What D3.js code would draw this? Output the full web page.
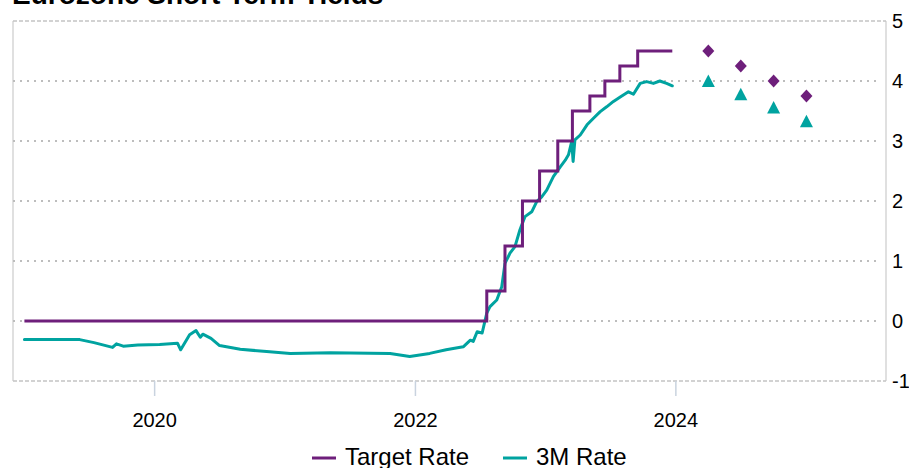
<!DOCTYPE html>
<html>
<head>
<meta charset="utf-8">
<script src="https://cdn.jsdelivr.net/npm/d3@7"></script>
<style>
  html, body { margin: 0; padding: 0; background: #fff; }
  svg { display: block; font-family: "Liberation Sans", Arial, sans-serif; }
</style>
</head>
<body>
<svg id="chart" width="909" height="468"></svg>
<script>
// ECB target rate (step changes: date the new level takes effect)
const targetDates  = ["2019-01-01","2022-07-20","2022-09-09","2022-10-28","2022-12-15","2023-02-04","2023-03-17","2023-05-05","2023-06-16","2023-07-28","2023-09-16","2023-12-22"];
const targetValues = [0, 0.5, 1.25, 2.0, 2.5, 3.0, 3.5, 3.75, 4.0, 4.25, 4.5, 4.5];

// 3M Euribor
const rate3mDates = [
  "2019-01-01","2019-03-01","2019-06-05","2019-07-15","2019-09-05","2019-09-16","2019-10-05","2019-11-15",
  "2020-01-15","2020-03-05","2020-03-14","2020-04-08","2020-04-26","2020-05-08","2020-05-15","2020-06-07",
  "2020-07-01","2020-08-28","2020-11-10","2021-01-15","2021-05-08","2021-10-22","2021-12-16","2022-02-10",
  "2022-03-28","2022-05-15","2022-06-04","2022-06-12","2022-06-23","2022-07-07","2022-07-20","2022-07-29",
  "2022-08-17","2022-08-31","2022-09-09","2022-09-23","2022-10-07","2022-10-21","2022-11-04","2022-11-23",
  "2022-12-07","2022-12-21","2023-01-04","2023-01-23","2023-02-11","2023-02-25","2023-03-06","2023-03-15",
  "2023-03-19","2023-03-24","2023-04-08","2023-04-27","2023-05-15","2023-06-03","2023-06-21","2023-07-10",
  "2023-07-28","2023-08-21","2023-09-04","2023-09-23","2023-10-11","2023-10-30","2023-11-17","2023-12-06",
  "2023-12-22"];
const rate3mValues = [
  -0.31,-0.31,-0.31,-0.36,-0.44,-0.38,-0.42,-0.40,
  -0.39,-0.37,-0.48,-0.23,-0.16,-0.27,-0.22,-0.29,
  -0.41,-0.47,-0.51,-0.54,-0.53,-0.54,-0.59,-0.54,
  -0.48,-0.43,-0.32,-0.34,-0.18,-0.20,0.13,0.24,
  0.35,0.57,0.96,1.13,1.24,1.52,1.74,1.82,
  1.99,2.07,2.18,2.41,2.57,2.68,2.77,2.99,
  2.66,3.02,3.10,3.27,3.38,3.49,3.57,3.66,
  3.73,3.82,3.78,3.96,3.99,3.96,4.00,3.96,
  3.92];

// Quarterly forecasts
const forecastDates   = ["2024-04-01","2024-07-01","2024-10-01","2025-01-01"];
const forecastTarget  = [4.5, 4.25, 4.0, 3.75];
const forecast3m      = [4.0, 3.78, 3.56, 3.33];

const yTicks = [-1, 0, 1, 2, 3, 4, 5];
const xTickYears = ["2020-01-01","2022-01-01","2024-01-01"];
const xTickLabels = ["2020","2022","2024"];

const titleText = "Eurozone Short Term Yields";
const seriesNames = ["Target Rate", "3M Rate"];

const PURPLE = "#6e1f7b";
const TEAL = "#00a3a0";

const parse = d3.utcParse("%Y-%m-%d");
const svg = d3.select("#chart");

const plot = { left: 13, right: 886, top: 21, bottom: 381 };

const x = d3.scaleUtc()
  .domain([parse("2018-11-30"), parse("2025-08-12")])
  .range([plot.left, plot.right]);
const y = d3.scaleLinear()
  .domain([-1, 5])
  .range([plot.bottom, plot.top]);

// title (sits mostly above the visible canvas)
svg.append("text")
  .attr("x", 12).attr("y", 4)
  .attr("font-size", 28).attr("font-weight", "bold")
  .attr("fill", "#000")
  .text(titleText);

// frame
svg.append("line").attr("x1", plot.left).attr("x2", plot.left)
  .attr("y1", plot.top).attr("y2", plot.bottom)
  .attr("stroke", "#d6d6d6").attr("stroke-width", 1.5);
svg.append("line").attr("x1", plot.right).attr("x2", plot.right)
  .attr("y1", plot.top).attr("y2", plot.bottom)
  .attr("stroke", "#d6d6d6").attr("stroke-width", 1.5);
[plot.top, plot.bottom].forEach(py => {
  svg.append("line").attr("x1", plot.left).attr("x2", plot.right)
    .attr("y1", py).attr("y2", py)
    .attr("stroke", "#c4c4c4").attr("stroke-width", 1.5)
    .attr("stroke-dasharray", "4,2");
});

// dotted gridlines
svg.append("g").selectAll("line")
  .data(yTicks.filter(t => t > -1 && t < 5))
  .join("line")
  .attr("x1", plot.left).attr("x2", plot.right - 8)
  .attr("y1", d => y(d)).attr("y2", d => y(d))
  .attr("stroke", "#bdbdbd").attr("stroke-width", 2)
  .attr("stroke-dasharray", "2,5");

// right axis labels
svg.append("g").selectAll("text")
  .data(yTicks)
  .join("text")
  .attr("x", 892).attr("y", d => y(d))
  .attr("dy", "0.35em")
  .attr("font-size", 20).attr("fill", "#000")
  .text(d => d);

// x ticks & labels
const xt = svg.append("g");
xt.selectAll("line")
  .data(xTickYears)
  .join("line")
  .attr("x1", d => x(parse(d))).attr("x2", d => x(parse(d)))
  .attr("y1", plot.bottom).attr("y2", plot.bottom + 15)
  .attr("stroke", "#c9d3df").attr("stroke-width", 1.5);
xt.selectAll("text")
  .data(xTickYears)
  .join("text")
  .attr("x", d => x(parse(d))).attr("y", 427)
  .attr("text-anchor", "middle")
  .attr("font-size", 20).attr("fill", "#000")
  .text((d, i) => xTickLabels[i]);

// series
const targetData = targetDates.map((d, i) => ({ date: parse(d), v: targetValues[i] }));
const rate3mData = rate3mDates.map((d, i) => ({ date: parse(d), v: rate3mValues[i] }));

svg.append("path")
  .datum(rate3mData)
  .attr("fill", "none").attr("stroke", TEAL).attr("stroke-width", 3)
  .attr("stroke-linejoin", "round").attr("stroke-linecap", "round")
  .attr("d", d3.line().x(d => x(d.date)).y(d => y(d.v)));

svg.append("path")
  .datum(targetData)
  .attr("fill", "none").attr("stroke", PURPLE).attr("stroke-width", 3)
  .attr("d", d3.line().curve(d3.curveStepAfter).x(d => x(d.date)).y(d => y(d.v)));

// forecast markers
const fc = forecastDates.map((d, i) => ({ date: parse(d), t: forecastTarget[i], r: forecast3m[i] }));
svg.append("g").selectAll("path")
  .data(fc)
  .join("path")
  .attr("transform", d => `translate(${x(d.date)},${y(d.r)})`)
  .attr("d", "M0,-6.5L6.5,6L-6.5,6Z")
  .attr("fill", TEAL);
svg.append("g").selectAll("path")
  .data(fc)
  .join("path")
  .attr("transform", d => `translate(${x(d.date)},${y(d.t)})`)
  .attr("d", "M0,-6.5L6,0L0,6.5L-6,0Z")
  .attr("fill", PURPLE);

// legend
const legend = svg.append("g");
const legendItems = [
  { name: seriesNames[0], color: PURPLE, x0: 312, tx: 345 },
  { name: seriesNames[1], color: TEAL, x0: 503, tx: 536 }
];
legendItems.forEach(it => {
  legend.append("line")
    .attr("x1", it.x0).attr("x2", it.x0 + 24)
    .attr("y1", 458).attr("y2", 458)
    .attr("stroke", it.color).attr("stroke-width", 3);
  legend.append("text")
    .attr("x", it.tx).attr("y", 465)
    .attr("font-size", 24).attr("fill", "#000")
    .text(it.name);
});
</script>
</body>
</html>
